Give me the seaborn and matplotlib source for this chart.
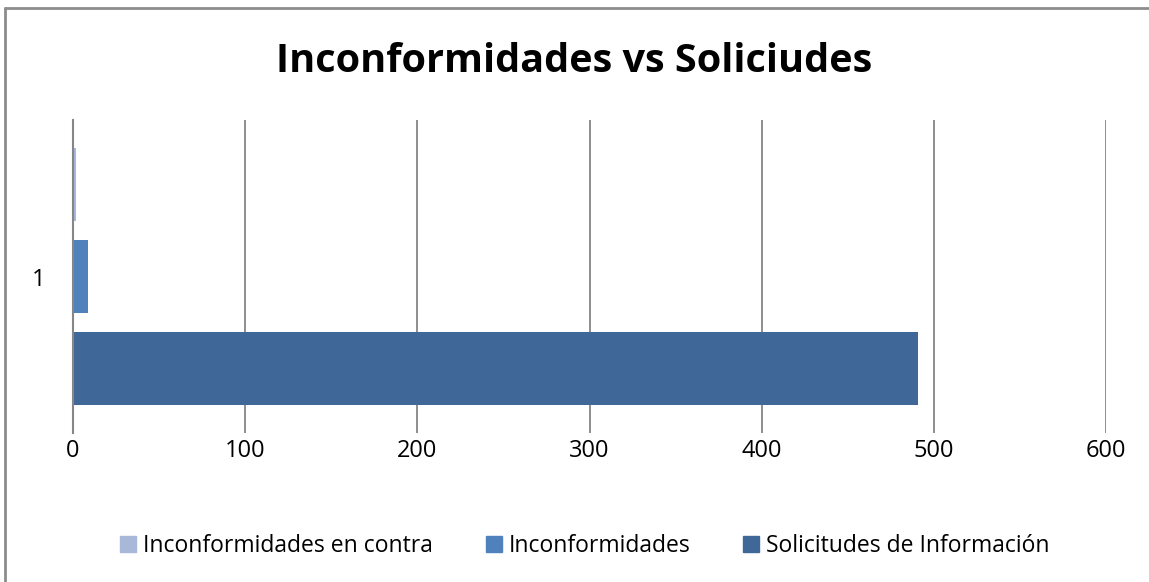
import matplotlib
matplotlib.use("Agg")
import matplotlib.pyplot as plt
import seaborn as sns
import pandas as pd
from matplotlib.lines import Line2D

# Datos del grafico
categorias = ["1", "1", "1"]
series = ["Inconformidades en contra", "Inconformidades", "Solicitudes de Información"]
valores = [2, 9, 491]
colores = ["#A7B8D9", "#4F81BD", "#3F6899"]
ticks_x = [0, 100, 200, 300, 400, 500, 600]

df = pd.DataFrame({"categoria": categorias, "serie": series, "valor": valores})

sns.set_style("white")
plt.rcParams["font.family"] = ["Open Sans", "DejaVu Sans"]
plt.rcParams["text.color"] = "black"
plt.rcParams["xtick.color"] = "black"
plt.rcParams["ytick.color"] = "black"

fig = plt.figure(figsize=(11.49, 5.82), dpi=100)
ax = fig.add_axes([73 / 1149, 1 - 433 / 582, (1106 - 73) / 1149, 313 / 582])

sns.barplot(data=df, x="valor", y="categoria", hue="serie", hue_order=series,
            palette=colores, orient="h", width=0.882, gap=0.2, ax=ax,
            legend=False, saturation=1, linewidth=0)

ax.set_xlim(0, 600)
ax.set_ylim(0.5, -0.5)
ax.set_xticks(ticks_x)
ax.set_xticklabels([str(t) for t in ticks_x], fontsize=17)
ax.tick_params(axis="x", length=0, pad=4)
ax.tick_params(axis="y", length=0, pad=20, labelsize=17)
ax.set_xlabel("")
ax.set_ylabel("")
ax.grid(axis="x", color="#868686", linewidth=1.3)
ax.set_axisbelow(True)
for lado in ["top", "right", "bottom"]:
    ax.spines[lado].set_visible(False)
ax.spines["left"].set_color("#868686")
ax.spines["left"].set_linewidth(1.5)
ax.spines["left"].set_zorder(5)

fig.text(0.5, 1 - 62 / 582, "Inconformidades vs Soliciudes", ha="center",
         va="center", fontsize=28.5, fontweight="bold")

# leyenda
handles = [plt.Rectangle((0, 0), 1, 1, color=c) for c in colores]
fig.legend(handles, series, loc="center", ncol=3, frameon=False,
           bbox_to_anchor=(585 / 1149, 1 - 546 / 582), fontsize=16.5,
           handlelength=0.7, handleheight=0.7, handletextpad=0.3,
           columnspacing=2.3)

# marco del area del grafico
fig.add_artist(Line2D([5 / 1149, 5 / 1149], [0, 1 - 8 / 582], color="#8c8c8c",
                      linewidth=2, transform=fig.transFigure))
fig.add_artist(Line2D([5 / 1149, 1], [1 - 8 / 582, 1 - 8 / 582], color="#8c8c8c",
                      linewidth=2, transform=fig.transFigure))

fig.savefig("out.png", dpi=100)
